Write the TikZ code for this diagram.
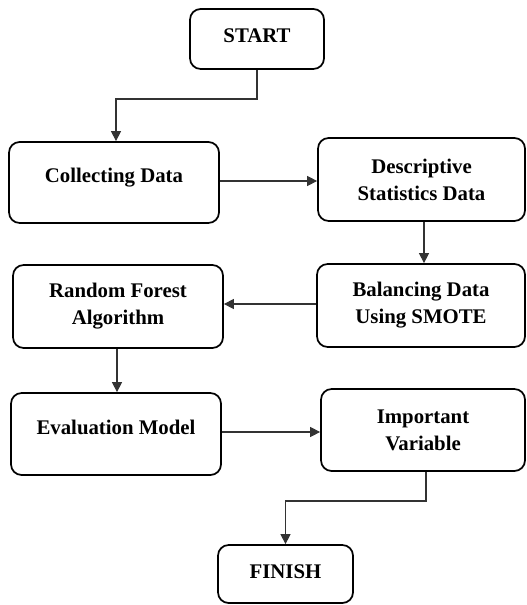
\documentclass[tikz,border=0pt]{standalone}
\usepackage{fontspec}
\setmainfont{Liberation Serif}
\usetikzlibrary{arrows.meta}
\begin{document}
\begin{tikzpicture}[x=0.75pt,y=-0.75pt,
  stepbox/.style={draw=black, line width=1.3pt, rounded corners=8pt, fill=white,
    align=center, inner sep=0pt,
    font=\fontsize{15.6pt}{20.25pt}\selectfont\bfseries},
  onebox/.style={stepbox, text height=9pt, text depth=9pt},
  flow/.style={draw=black!80, line width=0.8pt,
    -{Triangle[width=7.5pt,length=7.5pt]}}]
\useasboundingbox (0,0) rectangle (526,605);

% process steps
\node[stepbox, text height=10pt, text depth=4pt, minimum width=100.5pt, minimum height=45pt]
  (start) at (257,39) {START};
\node[onebox, minimum width=157.5pt, minimum height=60.75pt]
  (collect) at (114,182.5) {Collecting Data};
\node[stepbox, minimum width=155.25pt, minimum height=62.25pt]
  (desc) at (421.5,179.5) {Descriptive\\Statistics Data};
\node[stepbox, minimum width=156pt, minimum height=62.25pt]
  (bal) at (421,305.5) {Balancing Data\\Using SMOTE};
\node[stepbox, minimum width=157.5pt, minimum height=62.25pt]
  (rf) at (118,306.5) {Random Forest\\Algorithm};
\node[onebox, minimum width=157.5pt, minimum height=61.5pt]
  (eval) at (116,434) {Evaluation Model};
\node[stepbox, minimum width=153pt, minimum height=61.5pt]
  (imp) at (423,430) {Important\\Variable};
\node[stepbox, text height=10pt, text depth=4pt, minimum width=101.25pt, minimum height=43.5pt]
  (fin) at (285.5,574) {FINISH};

% connectors
\coordinate (j1) at (116,99);
\coordinate (j2) at (426,501);
\draw[flow] (start.south) |- (j1) -- (j1 |- collect.north);
\draw[flow] (collect.east |- 0,181) -- (desc.west |- 0,181);
\draw[flow] (desc.south -| 424,0) -- (bal.north -| 424,0);
\draw[flow] (bal.west |- 0,304) -- (rf.east |- 0,304);
\draw[flow] (rf.south -| 117,0) -- (eval.north -| 117,0);
\draw[flow] (eval.east |- 0,432) -- (imp.west |- 0,432);
\draw[flow] (imp.south -| j2) -- (j2) -| (fin.north);
\end{tikzpicture}
\end{document}
